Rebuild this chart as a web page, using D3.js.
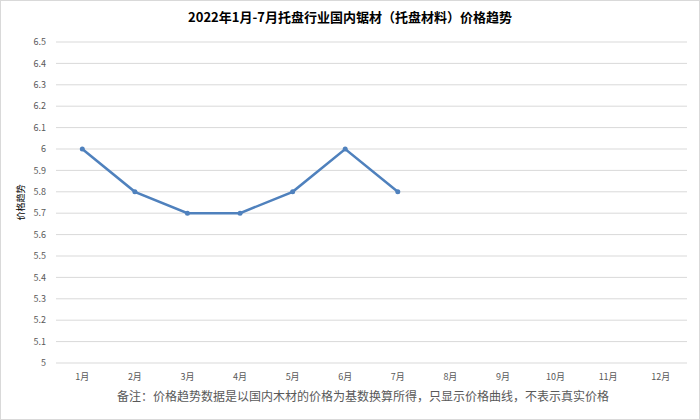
<!DOCTYPE html>
<html><head><meta charset="utf-8">
<script src="https://cdn.jsdelivr.net/npm/d3@7"></script>
<style>body{margin:0;background:#fff}text{font-family:"Noto Sans CJK SC","Noto Sans",sans-serif}</style>
</head><body>
<script>
const months = ['1月','2月','3月','4月','5月','6月','7月','8月','9月','10月','11月','12月']
const prices = [6, 5.8, 5.7, 5.7, 5.8, 6, 5.8]
const yTicks = [5,5.1,5.2,5.3,5.4,5.5,5.6,5.7,5.8,5.9,6,6.1,6.2,6.3,6.4,6.5]

const W = 700, H = 420
const margin = {top: 42, right: 13, bottom: 57, left: 56}
const svg = d3.select('body').append('svg').attr('width', W).attr('height', H)
svg.append('rect').attr('x', 0.5).attr('y', 0.5).attr('width', W - 1).attr('height', H - 1)
  .attr('fill', '#fff').attr('stroke', '#d9d9d9')

const x = d3.scaleBand().domain(months).range([margin.left, W - margin.right])
const y = d3.scaleLinear().domain([5, 6.5]).range([H - margin.bottom, margin.top])

// gridlines
svg.append('g').selectAll('line').data(yTicks).enter().append('line')
  .attr('x1', margin.left).attr('x2', W - margin.right)
  .attr('y1', d => y(d)).attr('y2', d => y(d))
  .attr('stroke', '#d9d9d9').attr('stroke-width', 1)

svg.append('g').selectAll('text').data(yTicks).enter().append('text')
  .attr('x', margin.left - 10).attr('y', d => y(d)).attr('dy', '0.35em')
  .attr('text-anchor', 'end').attr('font-size', 9).attr('fill', '#595959')
  .text(d => d3.format('~g')(d))

svg.append('g').selectAll('text').data(months).enter().append('text')
  .attr('x', d => x(d) + x.bandwidth() / 2).attr('y', H - margin.bottom + 17)
  .attr('text-anchor', 'middle').attr('font-size', 9).attr('fill', '#595959')
  .text(d => d)

const cx = (d, i) => x(months[i]) + x.bandwidth() / 2
const line = d3.line().x(cx).y(d => y(d))
svg.append('path').datum(prices).attr('d', line)
  .attr('fill', 'none').attr('stroke', '#4f81bd').attr('stroke-width', 2.5)
svg.append('g').selectAll('circle').data(prices).enter().append('circle')
  .attr('cx', cx).attr('cy', d => y(d)).attr('r', 2.5).attr('fill', '#4f81bd')

svg.append('text').attr('x', W / 2).attr('y', 22).attr('text-anchor', 'middle')
  .attr('font-size', 13).attr('font-weight', 'bold').attr('fill', '#000')
  .text('2022年1月-7月托盘行业国内锯材（托盘材料）价格趋势')

svg.append('text').attr('transform', 'translate(24,' + (y(5.75)) + ') rotate(-90)')
  .attr('text-anchor', 'middle').attr('font-size', 9).attr('fill', '#000')
  .text('价格趋势')

svg.append('text').attr('x', 363).attr('y', 401).attr('text-anchor', 'middle')
  .attr('font-size', 12).attr('fill', '#595959')
  .text('备注：价格趋势数据是以国内木材的价格为基数换算所得，只显示价格曲线，不表示真实价格')
</script>
</body></html>
